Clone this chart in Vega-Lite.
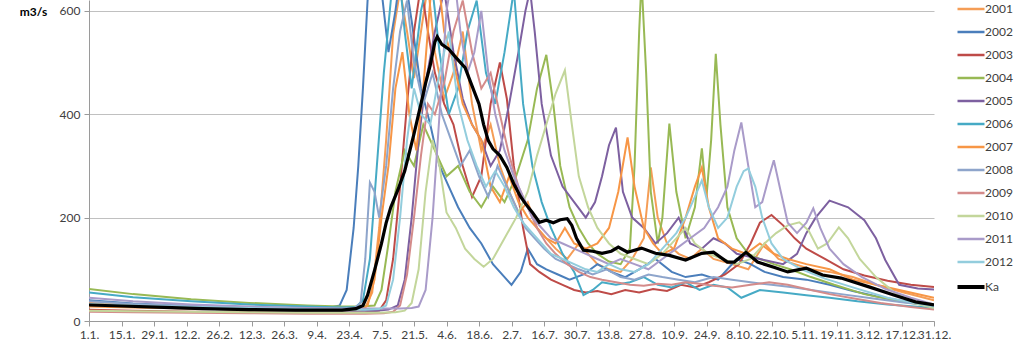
{
"$schema":"https://vega.github.io/schema/vega-lite/v6.json",
"width":845,"height":321,
"autosize":{"type":"none"},
"padding":{"left":89,"top":0,"right":90,"bottom":35},
"background":"white",
"config":{"view":{"stroke":null},"font":"Lato"},
"data":{"values":[
{"s":"2001","d":1,"q":35},{"s":"2001","d":20,"q":31},{"s":"2001","d":45,"q":27},{"s":"2001","d":70,"q":24},{"s":"2001","d":95,"q":22},{"s":"2001","d":115,"q":22},{"s":"2001","d":120,"q":26},{"s":"2001","d":123,"q":55},{"s":"2001","d":126,"q":180},{"s":"2001","d":129,"q":350},{"s":"2001","d":132,"q":555},{"s":"2001","d":135,"q":640},{"s":"2001","d":138,"q":560},{"s":"2001","d":141,"q":470},{"s":"2001","d":144,"q":560},{"s":"2001","d":147,"q":650},{"s":"2001","d":150,"q":520},{"s":"2001","d":154,"q":430},{"s":"2001","d":158,"q":480},{"s":"2001","d":162,"q":560},{"s":"2001","d":166,"q":420},{"s":"2001","d":170,"q":330},{"s":"2001","d":174,"q":380},{"s":"2001","d":178,"q":300},{"s":"2001","d":182,"q":250},{"s":"2001","d":186,"q":210},{"s":"2001","d":190,"q":230},{"s":"2001","d":194,"q":180},{"s":"2001","d":198,"q":160},{"s":"2001","d":202,"q":140},{"s":"2001","d":207,"q":120},{"s":"2001","d":212,"q":150},{"s":"2001","d":216,"q":130},{"s":"2001","d":220,"q":110},{"s":"2001","d":225,"q":100},{"s":"2001","d":230,"q":95},{"s":"2001","d":235,"q":120},{"s":"2001","d":240,"q":160},{"s":"2001","d":243,"q":297},{"s":"2001","d":246,"q":200},{"s":"2001","d":250,"q":150},{"s":"2001","d":255,"q":130},{"s":"2001","d":260,"q":120},{"s":"2001","d":265,"q":140},{"s":"2001","d":270,"q":120},{"s":"2001","d":278,"q":110},{"s":"2001","d":285,"q":100},{"s":"2001","d":292,"q":150},{"s":"2001","d":298,"q":120},{"s":"2001","d":305,"q":110},{"s":"2001","d":312,"q":100},{"s":"2001","d":320,"q":95},{"s":"2001","d":330,"q":85},{"s":"2001","d":340,"q":70},{"s":"2001","d":352,"q":55},{"s":"2001","d":365,"q":40},
{"s":"2002","d":1,"q":40},{"s":"2002","d":20,"q":34},{"s":"2002","d":45,"q":29},{"s":"2002","d":70,"q":26},{"s":"2002","d":95,"q":25},{"s":"2002","d":105,"q":26},{"s":"2002","d":109,"q":30},{"s":"2002","d":112,"q":60},{"s":"2002","d":115,"q":180},{"s":"2002","d":117,"q":300},{"s":"2002","d":119,"q":450},{"s":"2002","d":121,"q":620},{"s":"2002","d":124,"q":700},{"s":"2002","d":127,"q":640},{"s":"2002","d":130,"q":520},{"s":"2002","d":133,"q":600},{"s":"2002","d":136,"q":700},{"s":"2002","d":140,"q":580},{"s":"2002","d":144,"q":450},{"s":"2002","d":148,"q":380},{"s":"2002","d":152,"q":300},{"s":"2002","d":156,"q":260},{"s":"2002","d":160,"q":220},{"s":"2002","d":165,"q":180},{"s":"2002","d":170,"q":150},{"s":"2002","d":175,"q":110},{"s":"2002","d":180,"q":85},{"s":"2002","d":183,"q":70},{"s":"2002","d":187,"q":95},{"s":"2002","d":190,"q":140},{"s":"2002","d":194,"q":110},{"s":"2002","d":198,"q":100},{"s":"2002","d":203,"q":90},{"s":"2002","d":208,"q":80},{"s":"2002","d":214,"q":90},{"s":"2002","d":220,"q":110},{"s":"2002","d":226,"q":95},{"s":"2002","d":232,"q":85},{"s":"2002","d":238,"q":100},{"s":"2002","d":245,"q":120},{"s":"2002","d":252,"q":95},{"s":"2002","d":258,"q":85},{"s":"2002","d":265,"q":90},{"s":"2002","d":272,"q":80},{"s":"2002","d":280,"q":120},{"s":"2002","d":286,"q":110},{"s":"2002","d":292,"q":95},{"s":"2002","d":300,"q":85},{"s":"2002","d":310,"q":80},{"s":"2002","d":320,"q":70},{"s":"2002","d":330,"q":58},{"s":"2002","d":340,"q":48},{"s":"2002","d":352,"q":38},{"s":"2002","d":365,"q":30},
{"s":"2003","d":1,"q":22},{"s":"2003","d":20,"q":20},{"s":"2003","d":45,"q":18},{"s":"2003","d":70,"q":17},{"s":"2003","d":95,"q":16},{"s":"2003","d":110,"q":16},{"s":"2003","d":120,"q":17},{"s":"2003","d":126,"q":20},{"s":"2003","d":129,"q":40},{"s":"2003","d":132,"q":120},{"s":"2003","d":135,"q":260},{"s":"2003","d":138,"q":420},{"s":"2003","d":141,"q":560},{"s":"2003","d":144,"q":650},{"s":"2003","d":147,"q":560},{"s":"2003","d":150,"q":480},{"s":"2003","d":154,"q":420},{"s":"2003","d":158,"q":380},{"s":"2003","d":162,"q":300},{"s":"2003","d":166,"q":240},{"s":"2003","d":170,"q":280},{"s":"2003","d":174,"q":420},{"s":"2003","d":178,"q":500},{"s":"2003","d":181,"q":430},{"s":"2003","d":184,"q":300},{"s":"2003","d":188,"q":180},{"s":"2003","d":191,"q":110},{"s":"2003","d":195,"q":95},{"s":"2003","d":200,"q":80},{"s":"2003","d":205,"q":70},{"s":"2003","d":210,"q":60},{"s":"2003","d":215,"q":55},{"s":"2003","d":220,"q":58},{"s":"2003","d":226,"q":52},{"s":"2003","d":232,"q":60},{"s":"2003","d":238,"q":55},{"s":"2003","d":244,"q":62},{"s":"2003","d":250,"q":58},{"s":"2003","d":256,"q":70},{"s":"2003","d":262,"q":65},{"s":"2003","d":268,"q":75},{"s":"2003","d":275,"q":90},{"s":"2003","d":281,"q":110},{"s":"2003","d":286,"q":150},{"s":"2003","d":290,"q":190},{"s":"2003","d":295,"q":205},{"s":"2003","d":300,"q":185},{"s":"2003","d":305,"q":160},{"s":"2003","d":310,"q":140},{"s":"2003","d":318,"q":120},{"s":"2003","d":326,"q":100},{"s":"2003","d":335,"q":88},{"s":"2003","d":345,"q":78},{"s":"2003","d":355,"q":70},{"s":"2003","d":365,"q":66},
{"s":"2004","d":1,"q":62},{"s":"2004","d":20,"q":52},{"s":"2004","d":45,"q":42},{"s":"2004","d":70,"q":35},{"s":"2004","d":95,"q":30},{"s":"2004","d":110,"q":28},{"s":"2004","d":118,"q":28},{"s":"2004","d":124,"q":30},{"s":"2004","d":127,"q":60},{"s":"2004","d":130,"q":150},{"s":"2004","d":133,"q":250},{"s":"2004","d":137,"q":330},{"s":"2004","d":141,"q":300},{"s":"2004","d":145,"q":380},{"s":"2004","d":150,"q":330},{"s":"2004","d":155,"q":280},{"s":"2004","d":160,"q":300},{"s":"2004","d":165,"q":250},{"s":"2004","d":170,"q":220},{"s":"2004","d":175,"q":260},{"s":"2004","d":180,"q":230},{"s":"2004","d":185,"q":280},{"s":"2004","d":190,"q":350},{"s":"2004","d":194,"q":450},{"s":"2004","d":198,"q":515},{"s":"2004","d":201,"q":420},{"s":"2004","d":204,"q":300},{"s":"2004","d":208,"q":220},{"s":"2004","d":212,"q":180},{"s":"2004","d":216,"q":150},{"s":"2004","d":220,"q":130},{"s":"2004","d":225,"q":115},{"s":"2004","d":230,"q":110},{"s":"2004","d":234,"q":140},{"s":"2004","d":236,"q":300},{"s":"2004","d":238,"q":560},{"s":"2004","d":239,"q":660},{"s":"2004","d":241,"q":480},{"s":"2004","d":243,"q":250},{"s":"2004","d":246,"q":150},{"s":"2004","d":248,"q":200},{"s":"2004","d":251,"q":382},{"s":"2004","d":254,"q":250},{"s":"2004","d":258,"q":160},{"s":"2004","d":262,"q":220},{"s":"2004","d":265,"q":334},{"s":"2004","d":267,"q":240},{"s":"2004","d":269,"q":350},{"s":"2004","d":271,"q":517},{"s":"2004","d":273,"q":380},{"s":"2004","d":276,"q":220},{"s":"2004","d":280,"q":160},{"s":"2004","d":285,"q":130},{"s":"2004","d":290,"q":120},{"s":"2004","d":296,"q":110},{"s":"2004","d":303,"q":100},{"s":"2004","d":312,"q":85},{"s":"2004","d":322,"q":70},{"s":"2004","d":335,"q":52},{"s":"2004","d":350,"q":38},{"s":"2004","d":365,"q":28},
{"s":"2005","d":1,"q":30},{"s":"2005","d":20,"q":27},{"s":"2005","d":45,"q":24},{"s":"2005","d":70,"q":22},{"s":"2005","d":95,"q":20},{"s":"2005","d":110,"q":20},{"s":"2005","d":125,"q":20},{"s":"2005","d":130,"q":22},{"s":"2005","d":134,"q":30},{"s":"2005","d":137,"q":80},{"s":"2005","d":140,"q":200},{"s":"2005","d":143,"q":350},{"s":"2005","d":146,"q":460},{"s":"2005","d":150,"q":560},{"s":"2005","d":154,"q":640},{"s":"2005","d":158,"q":520},{"s":"2005","d":162,"q":430},{"s":"2005","d":166,"q":380},{"s":"2005","d":170,"q":350},{"s":"2005","d":174,"q":300},{"s":"2005","d":178,"q":330},{"s":"2005","d":182,"q":420},{"s":"2005","d":186,"q":520},{"s":"2005","d":189,"q":600},{"s":"2005","d":191,"q":640},{"s":"2005","d":193,"q":560},{"s":"2005","d":196,"q":420},{"s":"2005","d":200,"q":320},{"s":"2005","d":205,"q":260},{"s":"2005","d":210,"q":230},{"s":"2005","d":215,"q":200},{"s":"2005","d":219,"q":230},{"s":"2005","d":222,"q":280},{"s":"2005","d":225,"q":340},{"s":"2005","d":228,"q":374},{"s":"2005","d":231,"q":250},{"s":"2005","d":235,"q":200},{"s":"2005","d":240,"q":180},{"s":"2005","d":245,"q":150},{"s":"2005","d":250,"q":170},{"s":"2005","d":255,"q":200},{"s":"2005","d":260,"q":150},{"s":"2005","d":265,"q":140},{"s":"2005","d":270,"q":160},{"s":"2005","d":275,"q":150},{"s":"2005","d":280,"q":130},{"s":"2005","d":290,"q":120},{"s":"2005","d":300,"q":110},{"s":"2005","d":306,"q":130},{"s":"2005","d":310,"q":170},{"s":"2005","d":314,"q":200},{"s":"2005","d":320,"q":233},{"s":"2005","d":328,"q":220},{"s":"2005","d":335,"q":195},{"s":"2005","d":340,"q":160},{"s":"2005","d":344,"q":118},{"s":"2005","d":350,"q":70},{"s":"2005","d":358,"q":63},{"s":"2005","d":365,"q":61},
{"s":"2006","d":1,"q":55},{"s":"2006","d":20,"q":46},{"s":"2006","d":45,"q":38},{"s":"2006","d":70,"q":32},{"s":"2006","d":95,"q":28},{"s":"2006","d":110,"q":26},{"s":"2006","d":116,"q":27},{"s":"2006","d":119,"q":40},{"s":"2006","d":122,"q":120},{"s":"2006","d":125,"q":300},{"s":"2006","d":128,"q":480},{"s":"2006","d":131,"q":620},{"s":"2006","d":134,"q":700},{"s":"2006","d":137,"q":560},{"s":"2006","d":140,"q":450},{"s":"2006","d":144,"q":600},{"s":"2006","d":148,"q":680},{"s":"2006","d":152,"q":520},{"s":"2006","d":156,"q":400},{"s":"2006","d":160,"q":450},{"s":"2006","d":164,"q":560},{"s":"2006","d":168,"q":620},{"s":"2006","d":172,"q":480},{"s":"2006","d":176,"q":420},{"s":"2006","d":180,"q":520},{"s":"2006","d":184,"q":640},{"s":"2006","d":188,"q":420},{"s":"2006","d":192,"q":300},{"s":"2006","d":196,"q":230},{"s":"2006","d":200,"q":180},{"s":"2006","d":205,"q":130},{"s":"2006","d":210,"q":95},{"s":"2006","d":214,"q":50},{"s":"2006","d":218,"q":60},{"s":"2006","d":222,"q":75},{"s":"2006","d":228,"q":70},{"s":"2006","d":234,"q":75},{"s":"2006","d":240,"q":85},{"s":"2006","d":246,"q":70},{"s":"2006","d":252,"q":65},{"s":"2006","d":258,"q":75},{"s":"2006","d":264,"q":60},{"s":"2006","d":270,"q":70},{"s":"2006","d":276,"q":65},{"s":"2006","d":282,"q":45},{"s":"2006","d":290,"q":60},{"s":"2006","d":300,"q":55},{"s":"2006","d":310,"q":50},{"s":"2006","d":320,"q":45},{"s":"2006","d":332,"q":38},{"s":"2006","d":345,"q":32},{"s":"2006","d":365,"q":25},
{"s":"2007","d":1,"q":28},{"s":"2007","d":20,"q":26},{"s":"2007","d":45,"q":24},{"s":"2007","d":70,"q":22},{"s":"2007","d":95,"q":21},{"s":"2007","d":110,"q":21},{"s":"2007","d":118,"q":22},{"s":"2007","d":121,"q":30},{"s":"2007","d":124,"q":80},{"s":"2007","d":127,"q":200},{"s":"2007","d":130,"q":300},{"s":"2007","d":133,"q":450},{"s":"2007","d":136,"q":520},{"s":"2007","d":139,"q":400},{"s":"2007","d":142,"q":330},{"s":"2007","d":145,"q":450},{"s":"2007","d":148,"q":620},{"s":"2007","d":151,"q":680},{"s":"2007","d":154,"q":560},{"s":"2007","d":158,"q":500},{"s":"2007","d":162,"q":420},{"s":"2007","d":166,"q":380},{"s":"2007","d":170,"q":350},{"s":"2007","d":174,"q":260},{"s":"2007","d":178,"q":230},{"s":"2007","d":182,"q":280},{"s":"2007","d":186,"q":230},{"s":"2007","d":190,"q":200},{"s":"2007","d":194,"q":180},{"s":"2007","d":198,"q":160},{"s":"2007","d":202,"q":150},{"s":"2007","d":206,"q":180},{"s":"2007","d":210,"q":150},{"s":"2007","d":215,"q":140},{"s":"2007","d":220,"q":150},{"s":"2007","d":225,"q":180},{"s":"2007","d":229,"q":250},{"s":"2007","d":233,"q":355},{"s":"2007","d":236,"q":260},{"s":"2007","d":240,"q":180},{"s":"2007","d":244,"q":150},{"s":"2007","d":248,"q":130},{"s":"2007","d":253,"q":140},{"s":"2007","d":258,"q":200},{"s":"2007","d":262,"q":260},{"s":"2007","d":265,"q":297},{"s":"2007","d":268,"q":220},{"s":"2007","d":272,"q":160},{"s":"2007","d":278,"q":140},{"s":"2007","d":284,"q":130},{"s":"2007","d":290,"q":150},{"s":"2007","d":296,"q":130},{"s":"2007","d":302,"q":120},{"s":"2007","d":310,"q":110},{"s":"2007","d":320,"q":100},{"s":"2007","d":330,"q":80},{"s":"2007","d":340,"q":70},{"s":"2007","d":352,"q":58},{"s":"2007","d":365,"q":45},
{"s":"2008","d":1,"q":38},{"s":"2008","d":20,"q":33},{"s":"2008","d":45,"q":29},{"s":"2008","d":70,"q":26},{"s":"2008","d":95,"q":24},{"s":"2008","d":110,"q":23},{"s":"2008","d":115,"q":24},{"s":"2008","d":118,"q":35},{"s":"2008","d":120,"q":120},{"s":"2008","d":122,"q":268},{"s":"2008","d":124,"q":250},{"s":"2008","d":126,"q":200},{"s":"2008","d":129,"q":300},{"s":"2008","d":132,"q":450},{"s":"2008","d":135,"q":560},{"s":"2008","d":138,"q":620},{"s":"2008","d":141,"q":500},{"s":"2008","d":145,"q":420},{"s":"2008","d":149,"q":480},{"s":"2008","d":153,"q":400},{"s":"2008","d":157,"q":350},{"s":"2008","d":161,"q":300},{"s":"2008","d":165,"q":330},{"s":"2008","d":169,"q":280},{"s":"2008","d":173,"q":240},{"s":"2008","d":177,"q":300},{"s":"2008","d":181,"q":260},{"s":"2008","d":185,"q":220},{"s":"2008","d":189,"q":180},{"s":"2008","d":193,"q":160},{"s":"2008","d":197,"q":140},{"s":"2008","d":202,"q":120},{"s":"2008","d":207,"q":110},{"s":"2008","d":212,"q":100},{"s":"2008","d":218,"q":90},{"s":"2008","d":224,"q":100},{"s":"2008","d":230,"q":85},{"s":"2008","d":236,"q":80},{"s":"2008","d":242,"q":90},{"s":"2008","d":248,"q":85},{"s":"2008","d":255,"q":80},{"s":"2008","d":262,"q":75},{"s":"2008","d":270,"q":85},{"s":"2008","d":278,"q":80},{"s":"2008","d":286,"q":75},{"s":"2008","d":295,"q":70},{"s":"2008","d":305,"q":65},{"s":"2008","d":315,"q":58},{"s":"2008","d":325,"q":52},{"s":"2008","d":338,"q":44},{"s":"2008","d":352,"q":36},{"s":"2008","d":365,"q":30},
{"s":"2009","d":1,"q":18},{"s":"2009","d":20,"q":17},{"s":"2009","d":45,"q":16},{"s":"2009","d":70,"q":15},{"s":"2009","d":95,"q":14},{"s":"2009","d":110,"q":14},{"s":"2009","d":120,"q":14},{"s":"2009","d":128,"q":15},{"s":"2009","d":132,"q":18},{"s":"2009","d":135,"q":30},{"s":"2009","d":138,"q":90},{"s":"2009","d":141,"q":200},{"s":"2009","d":144,"q":320},{"s":"2009","d":147,"q":420},{"s":"2009","d":150,"q":400},{"s":"2009","d":154,"q":460},{"s":"2009","d":158,"q":560},{"s":"2009","d":162,"q":620},{"s":"2009","d":166,"q":520},{"s":"2009","d":170,"q":450},{"s":"2009","d":174,"q":480},{"s":"2009","d":178,"q":400},{"s":"2009","d":182,"q":320},{"s":"2009","d":186,"q":260},{"s":"2009","d":190,"q":220},{"s":"2009","d":194,"q":180},{"s":"2009","d":198,"q":150},{"s":"2009","d":202,"q":130},{"s":"2009","d":207,"q":110},{"s":"2009","d":212,"q":95},{"s":"2009","d":217,"q":85},{"s":"2009","d":222,"q":80},{"s":"2009","d":228,"q":75},{"s":"2009","d":234,"q":70},{"s":"2009","d":240,"q":68},{"s":"2009","d":246,"q":72},{"s":"2009","d":252,"q":70},{"s":"2009","d":258,"q":75},{"s":"2009","d":264,"q":72},{"s":"2009","d":270,"q":68},{"s":"2009","d":278,"q":65},{"s":"2009","d":286,"q":70},{"s":"2009","d":294,"q":75},{"s":"2009","d":302,"q":70},{"s":"2009","d":310,"q":62},{"s":"2009","d":320,"q":52},{"s":"2009","d":330,"q":44},{"s":"2009","d":342,"q":35},{"s":"2009","d":355,"q":27},{"s":"2009","d":365,"q":22},
{"s":"2010","d":1,"q":20},{"s":"2010","d":20,"q":19},{"s":"2010","d":45,"q":18},{"s":"2010","d":70,"q":17},{"s":"2010","d":95,"q":16},{"s":"2010","d":110,"q":16},{"s":"2010","d":125,"q":16},{"s":"2010","d":133,"q":17},{"s":"2010","d":137,"q":20},{"s":"2010","d":140,"q":35},{"s":"2010","d":143,"q":100},{"s":"2010","d":146,"q":250},{"s":"2010","d":149,"q":350},{"s":"2010","d":152,"q":300},{"s":"2010","d":155,"q":210},{"s":"2010","d":159,"q":180},{"s":"2010","d":163,"q":140},{"s":"2010","d":167,"q":120},{"s":"2010","d":171,"q":105},{"s":"2010","d":175,"q":120},{"s":"2010","d":180,"q":160},{"s":"2010","d":185,"q":200},{"s":"2010","d":190,"q":250},{"s":"2010","d":194,"q":320},{"s":"2010","d":198,"q":380},{"s":"2010","d":202,"q":440},{"s":"2010","d":206,"q":485},{"s":"2010","d":209,"q":380},{"s":"2010","d":212,"q":280},{"s":"2010","d":216,"q":220},{"s":"2010","d":220,"q":180},{"s":"2010","d":225,"q":150},{"s":"2010","d":230,"q":130},{"s":"2010","d":236,"q":120},{"s":"2010","d":242,"q":110},{"s":"2010","d":248,"q":130},{"s":"2010","d":254,"q":160},{"s":"2010","d":258,"q":180},{"s":"2010","d":262,"q":150},{"s":"2010","d":268,"q":130},{"s":"2010","d":274,"q":120},{"s":"2010","d":280,"q":110},{"s":"2010","d":286,"q":120},{"s":"2010","d":292,"q":150},{"s":"2010","d":297,"q":170},{"s":"2010","d":302,"q":185},{"s":"2010","d":307,"q":191},{"s":"2010","d":311,"q":175},{"s":"2010","d":315,"q":140},{"s":"2010","d":319,"q":150},{"s":"2010","d":324,"q":181},{"s":"2010","d":328,"q":160},{"s":"2010","d":333,"q":120},{"s":"2010","d":340,"q":85},{"s":"2010","d":348,"q":55},{"s":"2010","d":356,"q":35},{"s":"2010","d":365,"q":25},
{"s":"2011","d":1,"q":45},{"s":"2011","d":20,"q":38},{"s":"2011","d":45,"q":32},{"s":"2011","d":70,"q":28},{"s":"2011","d":95,"q":25},{"s":"2011","d":110,"q":24},{"s":"2011","d":125,"q":24},{"s":"2011","d":135,"q":24},{"s":"2011","d":140,"q":25},{"s":"2011","d":143,"q":28},{"s":"2011","d":146,"q":60},{"s":"2011","d":149,"q":200},{"s":"2011","d":152,"q":400},{"s":"2011","d":155,"q":600},{"s":"2011","d":158,"q":680},{"s":"2011","d":161,"q":560},{"s":"2011","d":164,"q":480},{"s":"2011","d":167,"q":520},{"s":"2011","d":170,"q":600},{"s":"2011","d":173,"q":480},{"s":"2011","d":176,"q":400},{"s":"2011","d":180,"q":330},{"s":"2011","d":184,"q":280},{"s":"2011","d":188,"q":240},{"s":"2011","d":192,"q":200},{"s":"2011","d":196,"q":180},{"s":"2011","d":200,"q":160},{"s":"2011","d":205,"q":150},{"s":"2011","d":210,"q":140},{"s":"2011","d":215,"q":130},{"s":"2011","d":220,"q":120},{"s":"2011","d":225,"q":110},{"s":"2011","d":230,"q":120},{"s":"2011","d":236,"q":110},{"s":"2011","d":242,"q":100},{"s":"2011","d":248,"q":120},{"s":"2011","d":254,"q":140},{"s":"2011","d":260,"q":160},{"s":"2011","d":266,"q":180},{"s":"2011","d":272,"q":220},{"s":"2011","d":276,"q":260},{"s":"2011","d":279,"q":330},{"s":"2011","d":282,"q":384},{"s":"2011","d":285,"q":300},{"s":"2011","d":288,"q":220},{"s":"2011","d":291,"q":230},{"s":"2011","d":294,"q":280},{"s":"2011","d":296,"q":311},{"s":"2011","d":299,"q":250},{"s":"2011","d":302,"q":190},{"s":"2011","d":306,"q":170},{"s":"2011","d":310,"q":190},{"s":"2011","d":313,"q":218},{"s":"2011","d":316,"q":180},{"s":"2011","d":320,"q":140},{"s":"2011","d":326,"q":110},{"s":"2011","d":334,"q":85},{"s":"2011","d":344,"q":62},{"s":"2011","d":355,"q":45},{"s":"2011","d":365,"q":32},
{"s":"2012","d":1,"q":33},{"s":"2012","d":20,"q":30},{"s":"2012","d":45,"q":27},{"s":"2012","d":70,"q":25},{"s":"2012","d":95,"q":23},{"s":"2012","d":110,"q":22},{"s":"2012","d":120,"q":22},{"s":"2012","d":126,"q":23},{"s":"2012","d":129,"q":30},{"s":"2012","d":132,"q":80},{"s":"2012","d":135,"q":200},{"s":"2012","d":138,"q":350},{"s":"2012","d":141,"q":450},{"s":"2012","d":144,"q":400},{"s":"2012","d":148,"q":380},{"s":"2012","d":152,"q":480},{"s":"2012","d":156,"q":560},{"s":"2012","d":160,"q":420},{"s":"2012","d":164,"q":350},{"s":"2012","d":168,"q":300},{"s":"2012","d":172,"q":260},{"s":"2012","d":176,"q":290},{"s":"2012","d":180,"q":260},{"s":"2012","d":184,"q":220},{"s":"2012","d":188,"q":190},{"s":"2012","d":192,"q":170},{"s":"2012","d":196,"q":150},{"s":"2012","d":200,"q":130},{"s":"2012","d":205,"q":120},{"s":"2012","d":210,"q":110},{"s":"2012","d":215,"q":100},{"s":"2012","d":220,"q":95},{"s":"2012","d":225,"q":110},{"s":"2012","d":230,"q":100},{"s":"2012","d":236,"q":95},{"s":"2012","d":242,"q":110},{"s":"2012","d":248,"q":140},{"s":"2012","d":254,"q":170},{"s":"2012","d":258,"q":200},{"s":"2012","d":262,"q":240},{"s":"2012","d":265,"q":272},{"s":"2012","d":268,"q":220},{"s":"2012","d":272,"q":180},{"s":"2012","d":276,"q":200},{"s":"2012","d":280,"q":260},{"s":"2012","d":283,"q":290},{"s":"2012","d":285,"q":295},{"s":"2012","d":288,"q":260},{"s":"2012","d":291,"q":200},{"s":"2012","d":295,"q":150},{"s":"2012","d":300,"q":120},{"s":"2012","d":308,"q":100},{"s":"2012","d":318,"q":82},{"s":"2012","d":330,"q":65},{"s":"2012","d":345,"q":45},{"s":"2012","d":365,"q":28},
{"s":"Ka","d":1,"q":31},{"s":"Ka","d":15,"q":29},{"s":"Ka","d":30,"q":27},{"s":"Ka","d":50,"q":24},{"s":"Ka","d":70,"q":22},{"s":"Ka","d":90,"q":21},{"s":"Ka","d":110,"q":21},{"s":"Ka","d":116,"q":24},{"s":"Ka","d":119,"q":30},{"s":"Ka","d":121,"q":50},{"s":"Ka","d":124,"q":98},{"s":"Ka","d":127,"q":150},{"s":"Ka","d":129,"q":190},{"s":"Ka","d":131,"q":220},{"s":"Ka","d":134,"q":253},{"s":"Ka","d":137,"q":290},{"s":"Ka","d":141,"q":362},{"s":"Ka","d":144,"q":420},{"s":"Ka","d":146,"q":460},{"s":"Ka","d":148,"q":495},{"s":"Ka","d":150,"q":540},{"s":"Ka","d":151,"q":550},{"s":"Ka","d":153,"q":535},{"s":"Ka","d":156,"q":526},{"s":"Ka","d":159,"q":510},{"s":"Ka","d":163,"q":490},{"s":"Ka","d":166,"q":455},{"s":"Ka","d":169,"q":420},{"s":"Ka","d":171,"q":380},{"s":"Ka","d":173,"q":349},{"s":"Ka","d":175,"q":333},{"s":"Ka","d":178,"q":320},{"s":"Ka","d":181,"q":297},{"s":"Ka","d":184,"q":265},{"s":"Ka","d":187,"q":240},{"s":"Ka","d":189,"q":227},{"s":"Ka","d":192,"q":210},{"s":"Ka","d":195,"q":191},{"s":"Ka","d":198,"q":195},{"s":"Ka","d":201,"q":190},{"s":"Ka","d":204,"q":196},{"s":"Ka","d":207,"q":198},{"s":"Ka","d":209,"q":185},{"s":"Ka","d":211,"q":160},{"s":"Ka","d":214,"q":137},{"s":"Ka","d":218,"q":135},{"s":"Ka","d":222,"q":131},{"s":"Ka","d":226,"q":135},{"s":"Ka","d":229,"q":143},{"s":"Ka","d":233,"q":133},{"s":"Ka","d":239,"q":141},{"s":"Ka","d":245,"q":131},{"s":"Ka","d":251,"q":127},{"s":"Ka","d":258,"q":118},{"s":"Ka","d":265,"q":131},{"s":"Ka","d":270,"q":133},{"s":"Ka","d":276,"q":114},{"s":"Ka","d":279,"q":114},{"s":"Ka","d":284,"q":133},{"s":"Ka","d":289,"q":114},{"s":"Ka","d":296,"q":104},{"s":"Ka","d":302,"q":95},{"s":"Ka","d":310,"q":102},{"s":"Ka","d":317,"q":89},{"s":"Ka","d":325,"q":83},{"s":"Ka","d":337,"q":66},{"s":"Ka","d":348,"q":50},{"s":"Ka","d":357,"q":37},{"s":"Ka","d":365,"q":31}
]},
"encoding":{
"x":{"field":"d","type":"quantitative","scale":{"domain":[1,365],"nice":false,"zero":false},
 "axis":{"title":null,"grid":false,"values":[1,15,29,43,57,71,85,99,113,127,141,155,169,183,197,211,225,239,253,267,281,295,309,323,337,351,365],
 "labelExpr":"timeFormat(datetime(2001,0,datum.value),'%-d.%-m.')","labelFontSize":12,"labelColor":"#404040","labelPadding":3,"labelOverlap":false,"labelBound":false,"labelFlush":false,
 "domainColor":"#9a9a9a","tickColor":"#9a9a9a","tickSize":5}},
"y":{"field":"q","type":"quantitative","scale":{"domain":[0,621],"nice":false},
 "axis":{"values":[0,200,400,600],"grid":true,"gridColor":"#c0c0c0","domainColor":"#9a9a9a","tickColor":"#9a9a9a","tickSize":5,"labelPadding":4,"labelFontSize":12,"labelColor":"#404040",
 "title":"m3/s","titleAngle":0,"titleX":-56,"titleY":11,"titleAlign":"center","titleBaseline":"middle","titleFontWeight":"bold","titleFontSize":12,"titleColor":"#000000"}},
"color":{"field":"s","type":"nominal",
 "scale":{"domain":["2001","2002","2003","2004","2005","2006","2007","2008","2009","2010","2011","2012","Ka"],
 "range":["#F59D56","#4A7EBB","#BE4B48","#98B954","#7D60A0","#46AAC5","#F79646","#8EA5CB","#D48B8A","#C3D69B","#A99BC9","#93CDDD","#000000"]},
 "legend":{"title":null,"orient":"none","legendX":876,"legendY":3,"symbolType":"stroke","symbolSize":729,"symbolStrokeWidth":2.5,"labelFontSize":12,"labelColor":"#404040","labelOffset":8,"rowPadding":11,
 "encode":{"symbols":{"update":{"strokeWidth":{"signal":"datum.value === 'Ka' ? 4 : 2.5"}}}}}}
},
"layer":[
{"transform":[{"filter":"datum.s !== 'Ka'"}],"mark":{"type":"line","strokeWidth":2,"clip":true}},
{"transform":[{"filter":"datum.s === 'Ka'"}],"mark":{"type":"line","strokeWidth":3.2,"clip":true}}
]
}
